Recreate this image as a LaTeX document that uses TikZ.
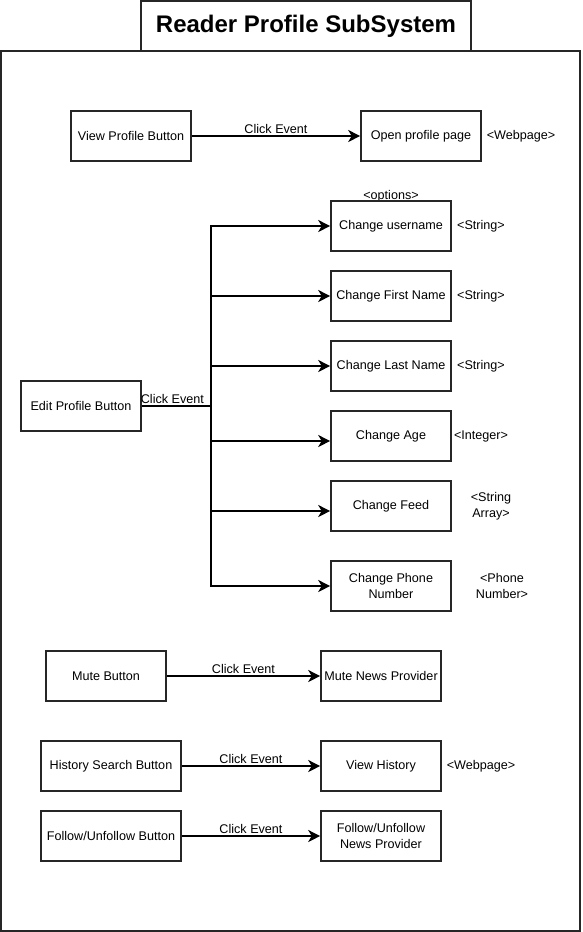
\documentclass[tikz,border=0pt]{standalone}
\usepackage{fontspec}
\setmainfont{Liberation Sans}
\usetikzlibrary{arrows.meta}
\begin{document}
\begin{tikzpicture}[x=1pt,y=-1pt,
  box/.style={draw=black!85,line width=1.6pt,minimum width=120pt,minimum height=50pt,inner sep=1pt,align=center,font=\fontsize{12.6}{15.5}\selectfont},
  lbl/.style={inner sep=0pt,align=center,font=\fontsize{12.6}{15.5}\selectfont},
  arr/.style={line width=1.6pt,-{Stealth[length=12pt,width=12pt,inset=3.5pt]}},
  ln/.style={line width=1.6pt}]
\useasboundingbox (0,0) rectangle (582,932);
\node[draw=black!85,line width=1.6pt,minimum width=579pt,minimum height=880pt,inner sep=0pt] (frame) at (290.5,491) {};
\node[draw=black!85,line width=1.6pt,minimum width=330pt,minimum height=50pt,inner sep=0pt,font=\fontsize{24}{28}\selectfont\bfseries] (title) at (306,26) {Reader Profile SubSystem};

\node[box] (vpb) at (131,136) {View Profile Button};
\node[box] (opp) at (421,136) {Open profile page};
\node[lbl] (w1) at (521,136) {<Webpage>};
\draw[arr] (vpb) -- node[lbl,above=2pt] (ce1) {Click Event} (opp);

\node[lbl] (opt) at (391,196) {<options>};
\node[box] (cu) at (391,226) {Change username};
\node[lbl] (s1) at (481,226) {<String>};
\node[box] (cfn) at (391,296) {Change First Name};
\node[lbl] (s2) at (481,296) {<String>};
\node[box] (cln) at (391,366) {Change Last Name};
\node[lbl] (s3) at (481,366) {<String>};
\node[box] (ca) at (391,436) {Change Age};
\node[lbl] (i1) at (481,436) {<Integer>};
\node[box] (cf) at (391,506) {Change Feed};
\node[lbl] (sa) at (491,506) {<String\\Array>};
\node[box] (cp) at (391,586) {Change Phone\\Number};
\node[lbl] (pn) at (502,586) {<Phone\\Number>};

\node[box] (epb) at (81,406) {Edit Profile Button};
\coordinate (jt) at (211,406);
\draw[ln] (epb.east) -- node[lbl,above=2pt,xshift=-4pt] (ce2) {Click Event} (jt);
\draw[arr] (jt) |- (cu.west);
\draw[arr] (jt) |- (cfn.west);
\draw[arr] (jt) |- (cln.west);
\draw[arr] (jt) |- ([yshift=-5pt]ca.west);
\draw[arr] (jt) |- ([yshift=-5pt]cf.west);
\draw[arr] (jt) |- (cp.west);

\node[box] (mb) at (106,676) {Mute Button};
\node[box] (mnp) at (381,676) {Mute News Provider};
\draw[arr] (mb) -- node[lbl,above=2pt] (ce3) {Click Event} (mnp);

\node[box,minimum width=140pt] (hsb) at (111,766) {History Search Button};
\node[box] (vh) at (381,766) {View History};
\node[lbl] (w2) at (481,766) {<Webpage>};
\draw[arr] (hsb) -- node[lbl,above=2pt] (ce4) {Click Event} (vh);

\node[box,minimum width=140pt] (fub) at (111,836) {Follow/Unfollow Button};
\node[box] (funp) at (381,836) {Follow/Unfollow\\News Provider};
\draw[arr] (fub) -- node[lbl,above=2pt] (ce5) {Click Event} (funp);
\end{tikzpicture}
\end{document}
